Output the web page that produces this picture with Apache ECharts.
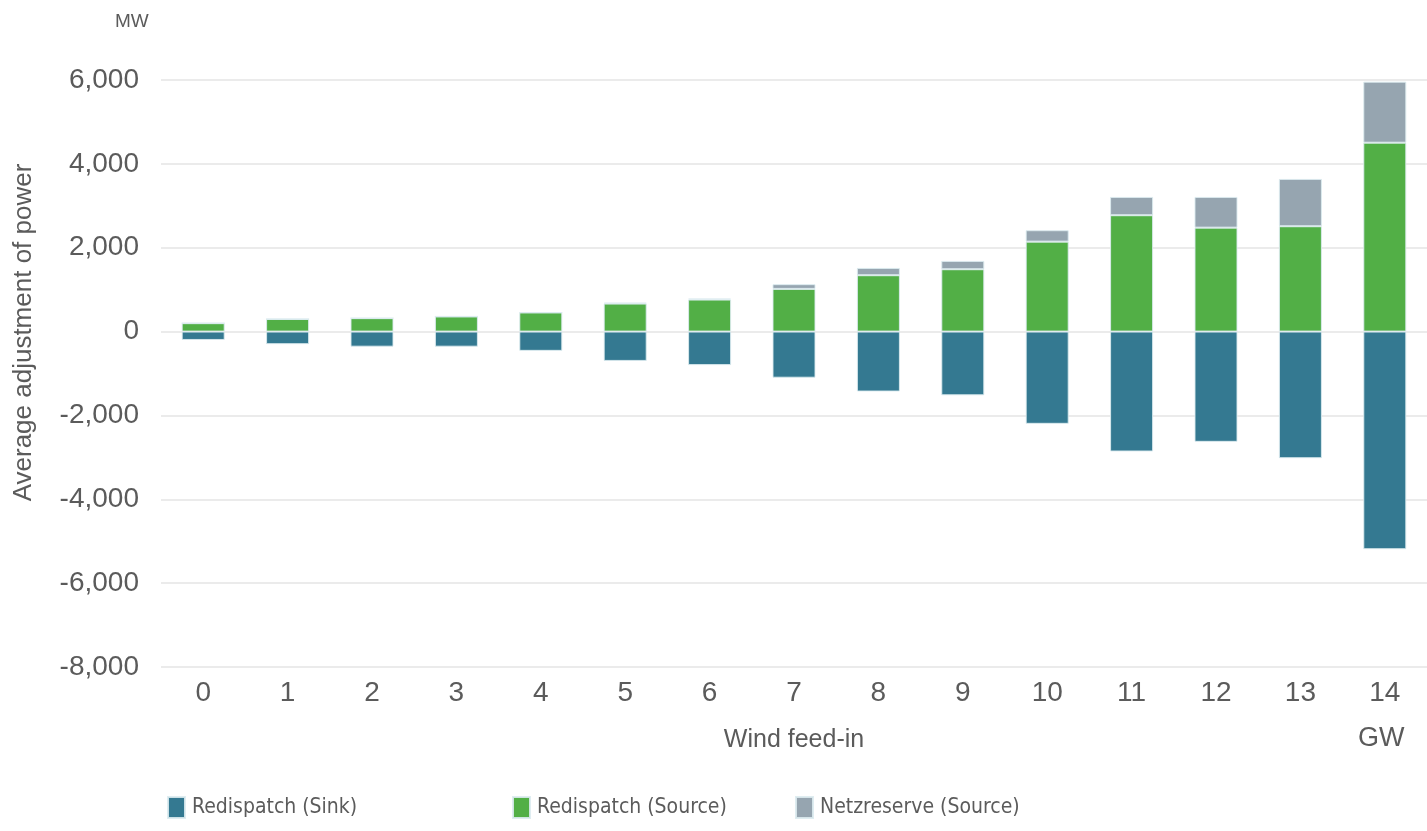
<!DOCTYPE html>
<html>
<head>
<meta charset="utf-8">
<script src="https://cdn.jsdelivr.net/npm/echarts@6/dist/echarts.min.js"></script>
<style>
html,body{margin:0;padding:0;background:#fff;}
#chart{width:1427px;height:831px;}
</style>
</head>
<body>
<div id="chart"></div>
<script>
const categories = ['0','1','2','3','4','5','6','7','8','9','10','11','12','13','14'];
const sinkValues = [-200,-300,-360,-360,-460,-700,-800,-1100,-1430,-1520,-2200,-2860,-2630,-3020,-5190];
const sourceValues = [200,300,320,360,455,667,763,1018,1344,1487,2145,2775,2479,2512,4505];
const netzValues = [0,0,0,0,0,20,25,112,174,198,272,436,732,1128,1455];
const seriesNames = ['Redispatch (Sink)','Redispatch (Source)','Netzreserve (Source)'];
const yTicks = [-8000,-6000,-4000,-2000,0,2000,4000,6000];

const FONT = "'Liberation Sans', Arial, sans-serif";
const NARROW = "'DejaVu Sans Condensed', 'Liberation Sans', sans-serif";
const TXT = '#5b5b5b';
const colors = ['#347991','#52af46','#96a5b0'];

const chart = echarts.init(document.getElementById('chart'), null, {renderer:'canvas'});

function mkSeries(name, data, color){
  return {
    name: name, type:'bar', stack:'total', data: data, barWidth: 43,
    itemStyle:{color: color, borderColor:'rgba(220,235,240,0.9)', borderWidth:1},
    emphasis:{disabled:true}
  };
}
function mkLegend(name, left){
  return {
    data:[name], left:left, top:796, padding:0, itemWidth:17, itemHeight:21, itemGap:0,
    icon:'rect',
    textStyle:{fontFamily:NARROW, fontSize:21, color:TXT, padding:[11,0,0,2]},
    selectedMode:false
  };
}

chart.setOption({
  animation:false,
  color: colors,
  title:[
    {text:'MW', left:110, top:7, textStyle:{fontFamily:FONT, fontSize:19, fontWeight:'normal', color:TXT}},
    {text:'GW', left:1353, top:720, textStyle:{fontFamily:FONT, fontSize:27, fontWeight:'normal', color:TXT}}
  ],
  legend:[mkLegend(seriesNames[0],167), mkLegend(seriesNames[1],512), mkLegend(seriesNames[2],795)],
  grid:{left:161, right:-3, top:80, bottom:164, containLabel:false},
  xAxis:{
    type:'category', data:categories,
    axisLine:{show:false}, axisTick:{show:false},
    axisLabel:{fontFamily:FONT, fontSize:28, color:TXT, margin:12},
    name:'Wind feed-in', nameLocation:'middle', nameGap:61,
    nameTextStyle:{fontFamily:FONT, fontSize:25, color:TXT}
  },
  yAxis:{
    type:'value', min:-8000, max:6000, interval:2000,
    axisLine:{show:false}, axisTick:{show:false},
    splitLine:{lineStyle:{color:'#ebebeb', width:2}},
    axisLabel:{fontFamily:FONT, fontSize:28, color:TXT, margin:22,
      formatter:function(v){return v.toLocaleString('en-US');}},
    name:'Average adjustment of power', nameLocation:'middle', nameGap:124,
    nameTextStyle:{fontFamily:FONT, fontSize:26, color:TXT, padding:[0,0,0,82]}
  },
  series:[
    mkSeries(seriesNames[0], sinkValues, colors[0]),
    mkSeries(seriesNames[1], sourceValues, colors[1]),
    mkSeries(seriesNames[2], netzValues, colors[2])
  ]
});
</script>
</body>
</html>
